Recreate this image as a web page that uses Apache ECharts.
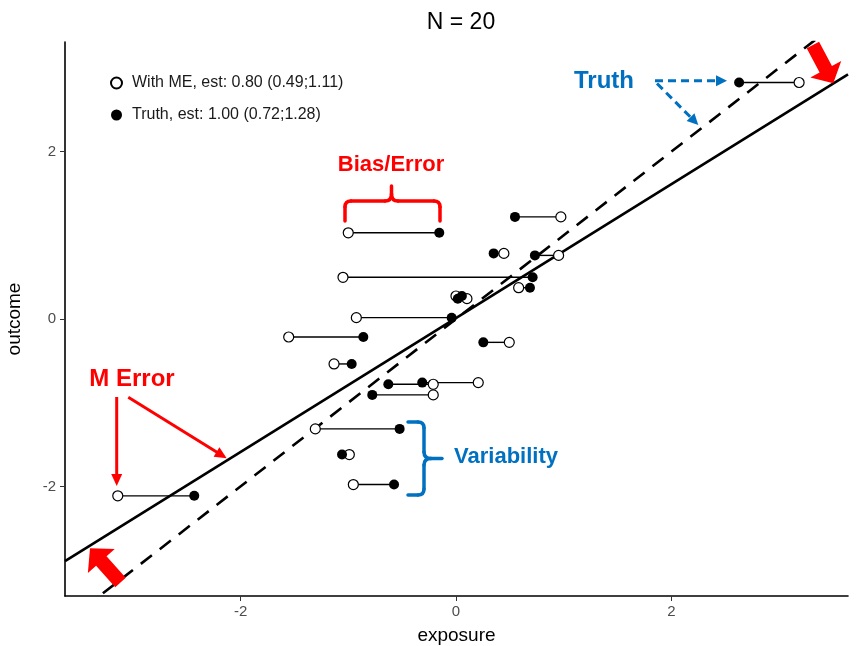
<!DOCTYPE html>
<html>
<head>
<meta charset="utf-8">
<script src="https://cdn.jsdelivr.net/npm/echarts@6/dist/echarts.min.js"></script>
<style>html,body{margin:0;padding:0;background:#fff}#c{width:858px;height:646px}</style>
</head>
<body>
<div id="c"></div>
<script>
// ---- data ----
const outcome      = [1.03, 1.22, 0.784, 0.76, 0.498, 0.374, 0.275, 0.243, 0.016, -0.215, -0.279, -0.537, -0.78, -0.76, -0.907, -1.313, -1.62, -1.978, -2.113, 2.826];
const exposureME   = [-1.00, 0.974, 0.445, 0.953, -1.049, 0.582, 0.0, 0.102, -0.925, -1.553, 0.495, -1.132, -0.211, 0.207, -0.211, -1.306, -0.99, -0.953, -3.14, 3.186];
const exposureTrue = [-0.155, 0.548, 0.35, 0.733, 0.712, 0.687, 0.055, 0.017, -0.04, -0.86, 0.254, -0.968, -0.628, -0.313, -0.777, -0.523, -1.058, -0.575, -2.43, 2.629];
const seriesNames  = ['With ME, est: 0.80 (0.49;1.11)', 'Truth, est: 1.00 (0.72;1.28)'];
const fitSlope     = [0.80, 1.00];
const fitIntercept = [0.01, 0.00];
const xTicks = [-2, 0, 2];
const yTicks = [-2, 0, 2];
const xRange = [-3.63, 3.64];
const yRange = [-3.31, 3.31];

const FONT = '"Liberation Sans", Arial, Helvetica, sans-serif';
const RED = '#FF0000', BLUE = '#0070C0';

const chart = echarts.init(document.getElementById('c'), null, {renderer: 'canvas'});

const segData = outcome.map((y, i) => [exposureME[i], exposureTrue[i], y]);
const meData = outcome.map((y, i) => [exposureME[i], y]);
const trData = outcome.map((y, i) => [exposureTrue[i], y]);
const fitLine = k => [xRange[0], xRange[1]].map(x => [x, fitIntercept[k] + fitSlope[k] * x]);

// ---- annotation helpers (pixel layout) ----
function arrowHead(tip, from, len, half, color) {
  const dx = tip[0] - from[0], dy = tip[1] - from[1];
  const L = Math.hypot(dx, dy), ux = dx / L, uy = dy / L, nx = -uy, ny = ux;
  const bx = tip[0] - ux * len, by = tip[1] - uy * len;
  return {type: 'polygon', z: 100, shape: {points: [tip, [bx + nx * half, by + ny * half], [bx - nx * half, by - ny * half]]},
          style: {fill: color}};
}
function arrow(from, tip, color, dashed, width, len, half) {
  const dx = tip[0] - from[0], dy = tip[1] - from[1];
  const L = Math.hypot(dx, dy);
  const end = [tip[0] - dx / L * (len - 2), tip[1] - dy / L * (len - 2)];
  return [
    {type: 'line', z: 100, shape: {x1: from[0], y1: from[1], x2: end[0], y2: end[1]},
     style: {stroke: color, lineWidth: width, lineDash: dashed ? [8, 5] : null}},
    arrowHead(tip, from, len, half, color)
  ];
}
function blockArrow(tail, tip, shaftHalf, headHalf, headLen, color) {
  const dx = tip[0] - tail[0], dy = tip[1] - tail[1];
  const L = Math.hypot(dx, dy), ux = dx / L, uy = dy / L, nx = -uy, ny = ux;
  const nk = [tip[0] - ux * headLen, tip[1] - uy * headLen];
  return {type: 'polygon', z: 100, shape: {points: [
    [tail[0] + nx * shaftHalf, tail[1] + ny * shaftHalf],
    [nk[0] + nx * shaftHalf, nk[1] + ny * shaftHalf],
    [nk[0] + nx * headHalf, nk[1] + ny * headHalf],
    tip,
    [nk[0] - nx * headHalf, nk[1] - ny * headHalf],
    [nk[0] - nx * shaftHalf, nk[1] - ny * shaftHalf],
    [tail[0] - nx * shaftHalf, tail[1] - ny * shaftHalf]
  ]}, style: {fill: color}};
}
function label(text, x, y, color, size) {
  return {type: 'text', z: 100, style: {text: text, x: x, y: y, fill: color, align: 'center', verticalAlign: 'middle',
          font: 'bold ' + size + 'px ' + FONT}};
}
// brace built from segments: ['M',x,y] ['L',x,y] ['Q',cx,cy,x,y]
function brace(cmds, color) {
  const out = []; let cur = null;
  const st = {stroke: color, lineWidth: 3.5, fill: null, lineCap: 'round'};
  cmds.forEach(c => {
    if (c[0] === 'M') cur = [c[1], c[2]];
    else if (c[0] === 'L') { out.push({type: 'line', z: 100, shape: {x1: cur[0], y1: cur[1], x2: c[1], y2: c[2]}, style: st}); cur = [c[1], c[2]]; }
    else if (c[0] === 'Q') { out.push({type: 'bezierCurve', z: 100, shape: {x1: cur[0], y1: cur[1], cpx1: c[1], cpy1: c[2], x2: c[3], y2: c[4]}, style: st}); cur = [c[3], c[4]]; }
  });
  return out;
}

const graphics = [].concat(
  [label('Bias/Error', 391, 165, RED, 22)],
  brace([['M',345,221],['L',345,207],['Q',345,201,351,201],['L',385,201],['Q',391.5,201,391.5,194],['L',391.5,186],
         ['M',391.5,194],['Q',391.5,201,398,201],['L',434,201],['Q',440,201,440,207],['L',440,221]], RED),
  [label('Truth', 604, 81, BLUE, 24)],
  arrow([655, 80.7], [727, 80.7], BLUE, true, 3, 11, 5.5),
  arrow([657, 83.5], [698.3, 125], BLUE, true, 3, 11, 5.5),
  [label('M Error', 132, 379, RED, 24)],
  arrow([116.7, 397], [116.7, 486], RED, false, 3, 12, 5.5),
  arrow([128.3, 397.3], [226.7, 458.3], RED, false, 3, 12, 5.5),
  [label('Variability', 506, 457, BLUE, 22)],
  brace([['M',408,422],['L',418,422],['Q',424,422,424,428],['L',424,452],['Q',424,458.5,431,458.5],['L',442,458.5],
         ['M',431,458.5],['Q',424,458.5,424,465],['L',424,489],['Q',424,495,418,495],['L',408,495]], BLUE),
  [blockArrow([812.9, 45], [833.3, 83.3], 7, 17.5, 16, RED)],
  [blockArrow([120.5, 582.5], [90, 548.3], 7, 18, 17, RED)]
);

const axisCommon = {
  type: 'value',
  splitLine: {show: false},
  axisLine: {show: true, onZero: false, lineStyle: {color: '#000', width: 1.6}},
  axisTick: {show: true, length: 5, lineStyle: {color: '#333', width: 1}},
  axisLabel: {color: '#4D4D4D', fontSize: 15, fontFamily: FONT},
  nameLocation: 'middle',
  nameTextStyle: {color: '#000', fontSize: 19, fontFamily: FONT}
};

chart.setOption({
  animation: false,
  backgroundColor: '#fff',
  title: {text: 'N = 20', left: 456, top: 6, textAlign: 'center',
          textStyle: {fontSize: 23, fontWeight: 'normal', color: '#000', fontFamily: FONT}},
  grid: {left: 65, right: 10, top: 42, bottom: 50, containLabel: false, outerBoundsMode: 'none'},
  legend: {
    show: true, orient: 'vertical', left: 105, top: 70, itemWidth: 11, itemHeight: 11, itemGap: 16,
    data: seriesNames,
    textStyle: {fontSize: 16, color: '#1A1A1A', fontFamily: FONT, padding: [0, 0, 0, 5]}
  },
  xAxis: Object.assign({}, axisCommon, {
    min: xRange[0], max: xRange[1], name: 'exposure', nameGap: 30,
    axisTick: Object.assign({}, axisCommon.axisTick, {customValues: xTicks}),
    axisLabel: Object.assign({}, axisCommon.axisLabel, {customValues: xTicks, margin: 8})
  }),
  yAxis: Object.assign({}, axisCommon, {
    min: yRange[0], max: yRange[1], name: 'outcome', nameGap: 41,
    axisTick: Object.assign({}, axisCommon.axisTick, {customValues: yTicks}),
    axisLabel: Object.assign({}, axisCommon.axisLabel, {customValues: yTicks, margin: 9})
  }),
  series: [
    {type: 'line', name: 'fitME', data: fitLine(0), symbol: 'none', z: 1, clip: true, silent: true,
     lineStyle: {color: '#000', width: 2.6, type: 'solid'}},
    {type: 'line', name: 'fitTruth', data: fitLine(1), symbol: 'none', z: 1, clip: true, silent: true,
     lineStyle: {color: '#000', width: 2.6, type: [14, 10]}},
    {type: 'custom', name: 'segments', z: 2, data: segData, encode: {x: [0, 1], y: 2},
     renderItem: function (params, api) {
       const a = api.coord([api.value(0), api.value(2)]);
       const b = api.coord([api.value(1), api.value(2)]);
       return {type: 'line', shape: {x1: a[0], y1: a[1], x2: b[0], y2: b[1]}, style: {stroke: '#000', lineWidth: 1.4}};
     }},
    {type: 'scatter', name: seriesNames[0], data: meData, z: 3, symbol: 'circle', symbolSize: 10,
     itemStyle: {color: '#fff', borderColor: '#000', borderWidth: 1.2, opacity: 1}},
    {type: 'scatter', name: seriesNames[1], data: trData, z: 4, symbol: 'circle', symbolSize: 10,
     itemStyle: {color: '#000', opacity: 1}}
  ],
  graphic: graphics
});
</script>
</body>
</html>
